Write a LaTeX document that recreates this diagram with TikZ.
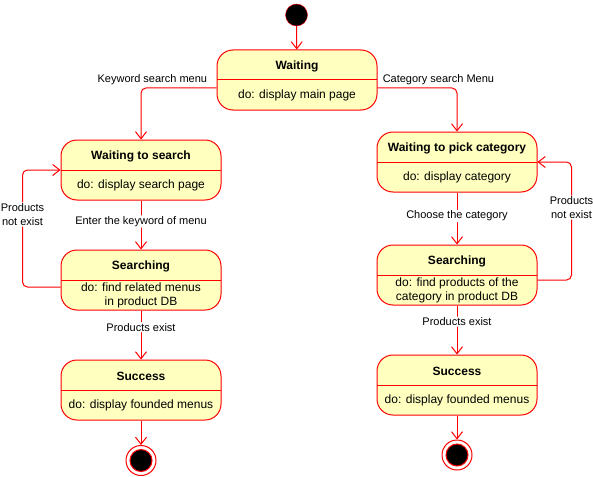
\documentclass[tikz,border=0pt]{standalone}
\usepackage{fontspec}
\setmainfont{Liberation Sans}
\usetikzlibrary{arrows.meta}
\definecolor{umlred}{HTML}{FF0000}
\definecolor{umlfill}{HTML}{FFFFC0}
\tikzset{state/.style={
    draw=umlred, fill=umlfill, line width=1pt, rounded corners=16pt,
    minimum width=160pt, minimum height=60pt, inner sep=0pt,
    path picture={\draw[umlred, line width=1pt] (path picture bounding box.west) -- (path picture bounding box.east);}
  },
  start/.style={circle, draw=umlred, fill=black, minimum size=22pt, inner sep=0pt},
  stop/.style={circle, draw=umlred, fill=white, line width=1pt, minimum size=30pt, inner sep=0pt,
    path picture={\draw[umlred, fill=black] (path picture bounding box.center) circle [radius=11pt];}
  },
  edge/.style={draw=umlred, line width=1pt, rounded corners=5pt, -{Straight Barb[length=7pt,width=11pt]}},
  lbl/.style={fill=white, inner sep=1pt, align=center},
  toplbl/.style={inner sep=1pt, yshift=8pt}
}
\newcommand\umlstate[4]{%
  \node[state] (#1) at (#2) {};
  \node[font=\fontsize{12}{14}\selectfont\bfseries] (#1-title) at ([yshift=14pt]#1.center) {#3};
  \node[font=\fontsize{12}{14}\selectfont, align=center] (#1-body) at ([yshift=-15pt]#1.center) {#4};
}

\begin{document}
\begin{tikzpicture}[x=1pt, y=-1pt, font=\fontsize{11}{14}\selectfont]
    \useasboundingbox (0,0) rectangle (593,476);

    \node[start] (init) at (296.5,15) {};
    \umlstate{waiting}{297,80}{Waiting}{do: display main page}

    \begin{scope}
        \umlstate{wts}{141,170}{Waiting to search}{do: display search page}
        \umlstate{searchL}{141,280}{Searching}{do: find related menus\\in product DB}
        \umlstate{successL}{141,390}{Success}{do: display founded menus}
        \node[stop] (finalL) at (141,460.5) {};
    \end{scope}
    \begin{scope}
        \umlstate{wtpc}{457,162}{Waiting to pick category}{do: display category}
        \umlstate{searchR}{457,275}{Searching}{do: find products of the\\category in product DB}
        \umlstate{successR}{457,385}{Success}{do: display founded menus}
        \node[stop] (finalR) at (457,455) {};
    \end{scope}

    \draw[edge] (init) -- (waiting);
    \draw[edge] ([yshift=-8pt]waiting.west) -| node[toplbl, pos=0.425] {Keyword search menu} (wts.north);
    \draw[edge] ([yshift=-8pt]waiting.east) -| node[toplbl, pos=0.383] {Category search Menu} (wtpc.north);

    \draw[edge] (wts) -- node[lbl, pos=0.43] {Enter the keyword of menu} (searchL);
    \draw[edge] (searchL) -- node[lbl, pos=0.34] {Products exist} (successL);
    \draw[edge] (successL) -- (finalL);
    \draw[edge] ([yshift=-7pt]searchL.west) -- ++(-38,0) |- node[lbl, pos=0.31] {Products\\not exist} (wts.west);

    \draw[edge] (wtpc) -- node[lbl, pos=0.45] {Choose the category} (searchR);
    \draw[edge] (searchR) -- node[lbl, pos=0.33] {Products exist} (successR);
    \draw[edge] (successR) -- (finalR);
    \draw[edge] ([yshift=-5pt]searchR.east) -- ++(34,0) |- node[lbl, pos=0.307] {Products\\not exist} (wtpc.east);
  \end{tikzpicture}
\end{document}
